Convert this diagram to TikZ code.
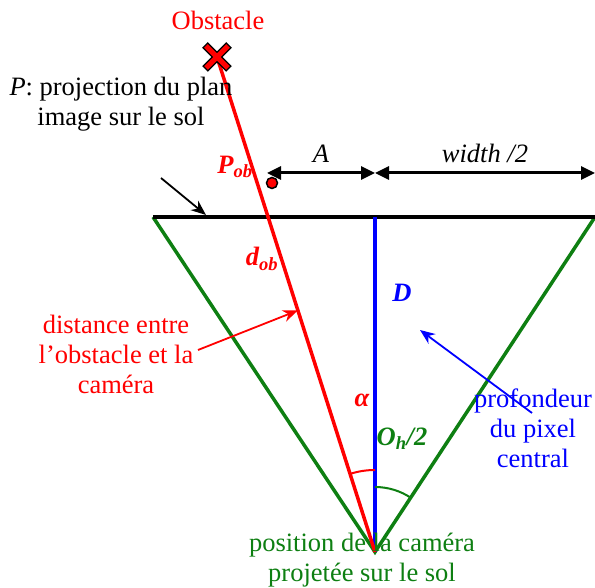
\documentclass[tikz,border=0pt]{standalone}
\usepackage{fontspec}
\setmainfont{Liberation Serif}
\usetikzlibrary{arrows.meta, calc}
\definecolor{obsred}{HTML}{FF0000}
\definecolor{fovgreen}{HTML}{0E7F12}
\definecolor{depthblue}{HTML}{0000FF}

\begin{document}
\begin{tikzpicture}[
    x=1pt, y=1pt,
    every node/.style={font=\fontsize{26.5}{30}\selectfont, inner sep=0pt},
    note/.style={align=center},
    sym/.style={font=\fontsize{26.5}{30}\selectfont\bfseries\itshape},
    dim/.style={{Triangle[length=14pt,width=13pt]}-{Triangle[length=14pt,width=13pt]}, line width=3pt},
    pointer/.style={-{Stealth[length=15pt,width=12pt]}, line width=1.8pt}
]
    \useasboundingbox (0,0) rectangle (595,588);

    % main points
    \coordinate (cam) at (375,36);
    \coordinate (planeL) at (153,371);
    \coordinate (planeR) at (595,371);
    \coordinate (planeM) at (375,371);
    \coordinate (obs) at (217,531);
    \coordinate (pob) at (272,405);

    % field of view and image plane
    \draw[fovgreen, line width=3.5pt] (planeL) -- (cam) -- (planeR);
    \draw[line width=4.5pt] (planeL) -- (planeR);
    \draw[depthblue, line width=4pt] (planeM) -- (cam);
    \draw[obsred, line width=3.5pt] (obs) -- (cam);

    % angles
    \draw[obsred, line width=2pt] ($(cam)+(90:82)$) arc[start angle=90, end angle=107.7, radius=82];
    \draw[fovgreen, line width=2pt] ($(cam)+(90:65)$) arc[start angle=90, end angle=56.7, radius=65];

    % obstacle marker
    \draw[line width=8pt] ($(obs)+(-12,12)$) -- ($(obs)+(12,-12)$) ($(obs)+(-12,-12)$) -- ($(obs)+(12,12)$);
    \draw[obsred, line width=5pt] ($(obs)+(-11,11)$) -- ($(obs)+(11,-11)$) ($(obs)+(-11,-11)$) -- ($(obs)+(11,11)$);
    \filldraw[fill=obsred, draw=black, line width=1.5pt] (pob) circle (5.5);

    % dimensions
    \coordinate (dimL) at (267,415);
    \coordinate (dimM) at (375,415);
    \coordinate (dimR) at (595,415);
    \draw[dim] (dimM) -- node[above=9pt, font=\fontsize{26.5}{30}\selectfont\itshape] (lblA) {A} (dimL);
    \draw[dim] (dimM) -- node[above=9pt, font=\fontsize{26.5}{30}\selectfont\itshape] (lblW) {width /2} (dimR);

    % labels
    \node[obsred] (obstacle) at (218,568) {Obstacle};
    \node[note] (plane) at (121,484) {\textit{P}: projection du plan\\image sur le sol};
    \node[sym, obsred] (lblPob) at (235,421) {P\textsubscript{ob}};
    \node[sym, obsred] (lblDob) at (262,329) {d\textsubscript{ob}};
    \node[sym, depthblue] (lblD) at (402,295) {D};
    \node[sym, obsred] (lblAlpha) at (362,188) {α};
    \node[sym, fovgreen] (lblOh) at (402,149) {O\textsubscript{h}/2};
    \node[note, obsred] (dist) at (116,234) {distance entre\\l’obstacle et la\\caméra};
    \node[note, depthblue] (depth) at (533,160) {profondeur\\du pixel\\central};
    \node[note, fovgreen] (campos) at (362,28) {position de la caméra\\projetée sur le sol};

    % pointers
    \coordinate (planeTip) at (206,373);
    \coordinate (distTip) at ($(cam)!0.488!(obs)$);
    \coordinate (depthTip) at (420,258);
    \draw[pointer] (161,410) -- (planeTip);
    \draw[pointer, obsred] (198,238) -- (distTip);
    \draw[pointer, depthblue] (532,175) -- (depthTip);
\end{tikzpicture}
\end{document}
